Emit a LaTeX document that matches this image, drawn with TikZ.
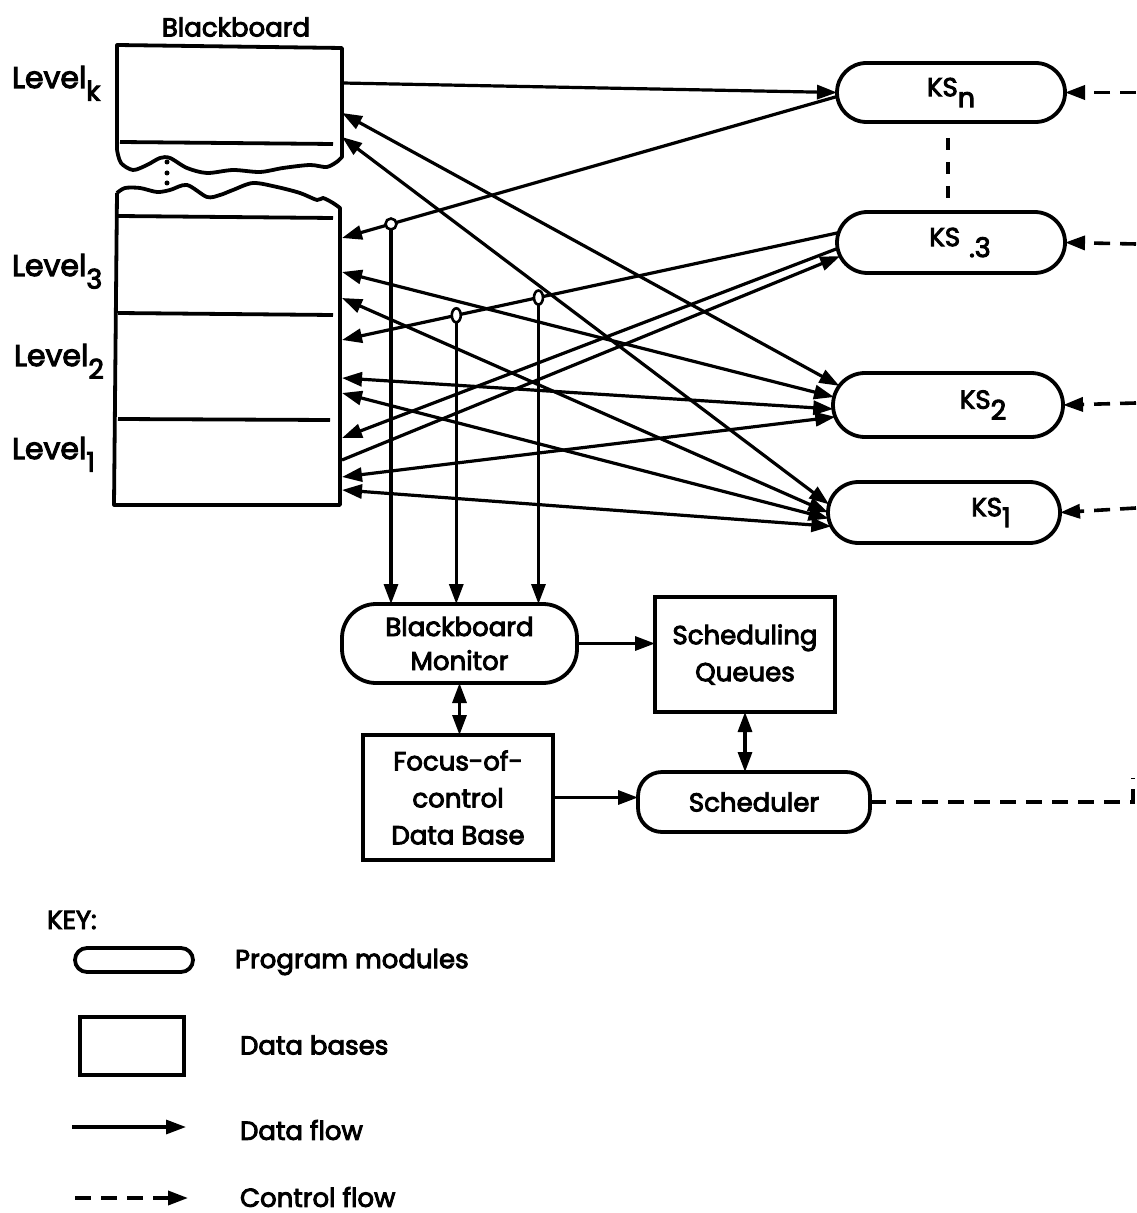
\documentclass[tikz,border=0pt]{standalone}
\usepackage{fontspec}
\setmainfont{Poppins}[FakeBold=3.5]
\usetikzlibrary{arrows.meta,shapes.misc,calc}
\newcommand\sbx[1]{\raisebox{-0.42em}{\fontsize{13.5}{13.5}\selectfont #1}}
\begin{document}
\begin{tikzpicture}[x=0.5pt,y=-0.5pt,
  every node/.style={inner sep=0pt, outer sep=0pt},
  >={Triangle[length=10pt,width=7pt]},
  dl/.style={line width=1.6pt},
  cf/.style={line width=1.8pt, dash pattern=on 8pt off 5pt},
  bd/.style={line width=1.9pt},
  txt/.style={font=\fontsize{13}{17}\selectfont},
  lvl/.style={font=\fontsize{15}{17}\selectfont, anchor=base west},
  ks/.style={rounded rectangle, draw, line width=1.9pt, minimum width=114pt, minimum height=30pt, font=\fontsize{13}{15}\selectfont},
  pm/.style={rectangle, draw, line width=1.9pt, align=center, font=\fontsize{13}{17}\selectfont},
  db/.style={rectangle, draw, line width=1.9pt, align=center, font=\fontsize{13}{18.5}\selectfont}
]
\fill[white] (0,0) rectangle (1136,1213);
\useasboundingbox (0,0) rectangle (1136,1213);

% ---------- Blackboard ----------
\node[txt] (ttl) at (236,27) {Blackboard};
\draw[bd, line join=round] (338,161) -- (342,157) -- (342,48) -- (117,45) -- (117,150)
  plot[smooth] coordinates {(117,150) (121,163) (133,170) (147,165) (160,158) (170,158) (187,168) (207,173) (233,170) (260,172) (283,168) (310,165) (327,167) (338,161)};
\draw[bd] (120,142) -- (333,144);
\draw[bd, line join=round] (117,193)
  plot[smooth] coordinates {(117,193) (125,188) (140,188) (157,192) (170,190) (187,185) (207,197) (220,195) (233,190) (253,183) (277,187) (300,193) (317,200) (323,198) (333,203) (340,208)}
  -- (340,505) -- (114,505) -- (117,193);
\draw[bd] (118,216) -- (333,218);
\draw[bd] (118,313) -- (333,315);
\draw[bd] (118,419) -- (330,420);
\fill (167,162) circle (2.5);
\fill (167,173) circle (2.5);
\fill (167,183) circle (2.5);

\node[lvl] (lk) at (12,88) {Level\sbx{k}};
\node[lvl] (l3) at (12,276) {Level\sbx{3}};
\node[lvl] (l2) at (14,366) {Level\sbx{2}};
\node[lvl] (l1) at (12,459) {Level\sbx{1}};

% blackboard connection points
\foreach \yy in {83,113,137,238,272,298,340,378,393,438,460,477,490}
  \coordinate (b\yy) at (342,\yy);

% ---------- Knowledge sources ----------
\node[ks, minimum height=29.5pt] (ksn) at (951,92.5) {KS\sbx{n}};
\node[ks, minimum height=30.5pt] (ks3) at (951,242.5) {\hspace*{9pt}KS\hspace{4.5pt}\sbx{.3}};
\node[ks, minimum height=32pt, minimum width=115pt] (ks2) at (948,405) {\hspace*{35pt}KS\sbx{2}};
\node[ks, minimum height=30.5pt, minimum width=116pt] (ks1) at (944,512.5) {\hspace*{47pt}KS\sbx{1}};
\draw[line width=1.9pt, dash pattern=on 6pt off 6pt, shorten <=8pt, shorten >=7pt] (ksn.south -| 948,0) -- (ks3.north -| 948,0);

% ---------- Lower modules ----------
\node[pm, rounded corners=17pt, minimum width=117.5pt, minimum height=39.5pt] (mon) at (459.5,643.5) {Blackboard\\Monitor};
\node[db, minimum width=90pt, minimum height=57.5pt] (sq) at (745,654.5) {Scheduling\\Queues};
\node[db, minimum width=95pt, minimum height=62.5pt] (fcd) at (458,797.5) {Focus-of-\\control\\Data Base};
\node[pm, rounded corners=12pt, minimum width=116pt, minimum height=30pt] (sch) at (754,802) {Scheduler};

% ---------- Data flow: blackboard <-> KS ----------
\draw[dl,->] (b83) -- (ksn.west);
\draw[dl,<->] (b113) -- (ks2.170);
\draw[dl,<->] (b137) -- (ks1.176);
\draw[dl,<-] (b238) -- (ksn.182);
\draw[dl,<->] (b272) -- (ks2.176);
\draw[dl,<->] (b298) -- (ks1.west);
\draw[dl,<-] (b340) -- (ks3.175);
\draw[dl,<->] (b378) -- (ks2.182);
\draw[dl,<->] (b393) -- (ks1.183);
\draw[dl,<-] (b438) -- (ks3.183);
\draw[dl,->] (b460) -- (ks3.187);
\draw[dl,<->] (b477) -- (ks2.186);
\draw[dl,<->] (b490) -- (ks1.187);

% junctions feeding the monitor
\coordinate (j1) at ($(b238)!0.0989!(ksn.182)$);
\coordinate (j2) at ($(b340)!0.2301!(ks3.175)$);
\coordinate (j3) at ($(b340)!0.3956!(ks3.175)$);
\draw[line width=1.3pt, fill=white] (j1) circle (5.5);
\draw[line width=1.3pt, fill=white] (j2) ellipse (4.5 and 7);
\draw[line width=1.3pt, fill=white] (j3) ellipse (4.5 and 7);
\draw[dl,->] (j1) ++(0,5.5) -- (j1 |- mon.north);
\draw[dl,->] (j2) ++(0,7) -- (j2 |- mon.north);
\draw[dl,->] (j3) ++(0,7) -- (j3 |- mon.north);

% ---------- Lower data flow ----------
\draw[dl,->] (mon.east) -- (mon.east -| sq.west);
\draw[dl,<->] (mon.south) -- (mon.south |- fcd.north);
\draw[dl,<->] (sq.south) -- (sq.south |- sch.north);
\draw[dl,->] (fcd.east) -- (fcd.east -| sch.west);

% ---------- Control flow ----------
\coordinate (rn) at (1136,92.5);
\coordinate (r3) at (1136,244);
\coordinate (r2) at (1136,403);
\coordinate (r1) at (1136,508);
\coordinate (rs) at (1133,802);
\coordinate (rsu) at (1133,778);
\draw[cf,->] (rn) -- (ksn.east);
\draw[cf,->] (r3) -- (ks3.east);
\draw[cf,->] (r2) -- (ks2.east);
\draw[cf,->] (r1) -- (ks1.east);
\draw[cf] (sch.east) -- (rs) -- (rsu);

% ---------- Key ----------
\node[txt, anchor=west] (tkey) at (47,920) {KEY:};
\node[rounded rectangle, draw, line width=1.9pt, minimum width=59pt, minimum height=12pt] (kpm) at (134,960) {};
\node[txt, anchor=west] (tpm) at (235,962) {Program modules};
\node[rectangle, draw, line width=1.9pt, minimum width=52pt, minimum height=29pt] (kdb) at (132,1046) {};
\node[txt, anchor=west] (tdb) at (240,1045) {Data bases};
\coordinate (kd1) at (72,1127);
\coordinate (kd2) at (186,1127);
\draw[dl,->] (kd1) -- (kd2);
\node[txt, anchor=west] (tdf) at (240,1130) {Data flow};
\coordinate (kc1) at (75,1198);
\coordinate (kc2) at (188,1198);
\draw[cf,->] (kc1) -- (kc2);
\node[txt, anchor=west] (tcf) at (240,1197) {Control flow};
\end{tikzpicture}
\end{document}
